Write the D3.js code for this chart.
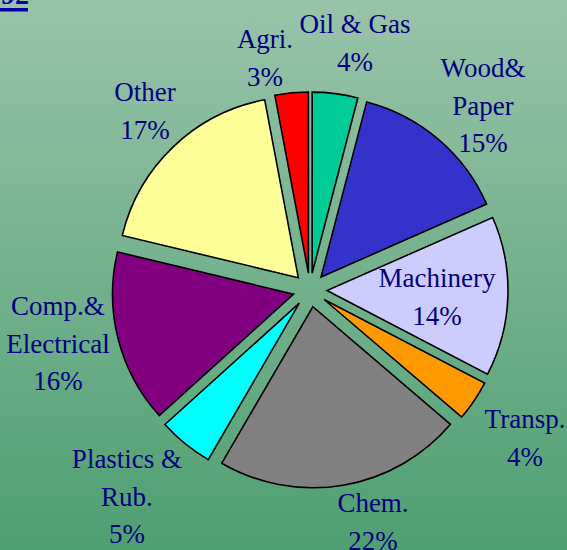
<!DOCTYPE html>
<html><head><meta charset="utf-8">
<script src="https://cdn.jsdelivr.net/npm/d3@7"></script>
<style>html,body{margin:0;padding:0;overflow:hidden}</style>
</head><body>
<svg id="c" width="567" height="550"></svg>
<script>
const categories = ["Oil & Gas","Wood& Paper","Machinery","Transp.","Chem.","Plastics & Rub.","Comp.& Electrical","Other","Agri."];
const labelLines = [["Oil & Gas"],["Wood&","Paper"],["Machinery"],["Transp."],["Chem."],["Plastics &","Rub."],["Comp.&","Electrical"],["Other"],["Agri."]];
// slice shares (angles), and the percentages printed on the labels
const values = [4.06,14.33,14.25,3.61,22.14,4.92,15.44,18.28,2.97];
const pctLabels = ["4%","15%","14%","4%","22%","5%","16%","17%","3%"];
const colors = ["#00CC99","#3333CC","#CCCCFF","#FF9900","#808080","#00FFFF","#800080","#FFFF99","#FF0000"];
// label anchor (center x, first baseline y)
const labelPos = [[355,33],[483,77],[437,287],[525,428],[373,512],[127,468],[58,315],[145,101],[265,48]];

const svg = d3.select("#c");
const defs = svg.append("defs");
const g = defs.append("linearGradient").attr("id","bg").attr("x1",0).attr("y1",0).attr("x2",0).attr("y2",1);
g.append("stop").attr("offset","0%").attr("stop-color","#99c3a9");
g.append("stop").attr("offset","100%").attr("stop-color","#4e9f71");
svg.append("rect").attr("width",567).attr("height",550).attr("fill","url(#bg)");

// partial title in top-left corner
svg.append("text").attr("x",1).attr("y",4).attr("font-family","Liberation Serif, serif")
  .attr("font-weight","bold").attr("font-size",28).attr("fill","#0000AA").text("92");
svg.append("rect").attr("x",0).attr("y",8).attr("width",28).attr("height",3.5).attr("fill","#0000AA");

const cx = 310, cy = 290, R = 181, explode = 17;
const pie = d3.pie().sort(null).value(d=>d).startAngle(0).endAngle(2*Math.PI);
const arc = d3.arc().innerRadius(0).outerRadius(R);
const arcs = pie(values);
const chart = svg.append("g").attr("transform",`translate(${cx},${cy})`);
chart.selectAll("path").data(arcs).join("path")
  .attr("transform",d=>{const a=(d.startAngle+d.endAngle)/2;return `translate(${explode*Math.sin(a)},${-explode*Math.cos(a)})`;})
  .attr("d",arc)
  .attr("fill",(d,i)=>colors[i])
  .attr("stroke","#000").attr("stroke-width",1.6).attr("stroke-linejoin","miter");

const lh = 37.5;
arcs.forEach((d,i)=>{
  const lines = labelLines[i].concat([pctLabels[i]]);
  const t = svg.append("text").attr("text-anchor","middle")
    .attr("font-family","Liberation Serif, Times New Roman, serif")
    .attr("font-size",27).attr("fill","#000080");
  lines.forEach((s,k)=>{
    t.append("tspan").attr("x",labelPos[i][0]).attr("y",labelPos[i][1]+k*lh).text(s);
  });
});
</script>
</body></html>
